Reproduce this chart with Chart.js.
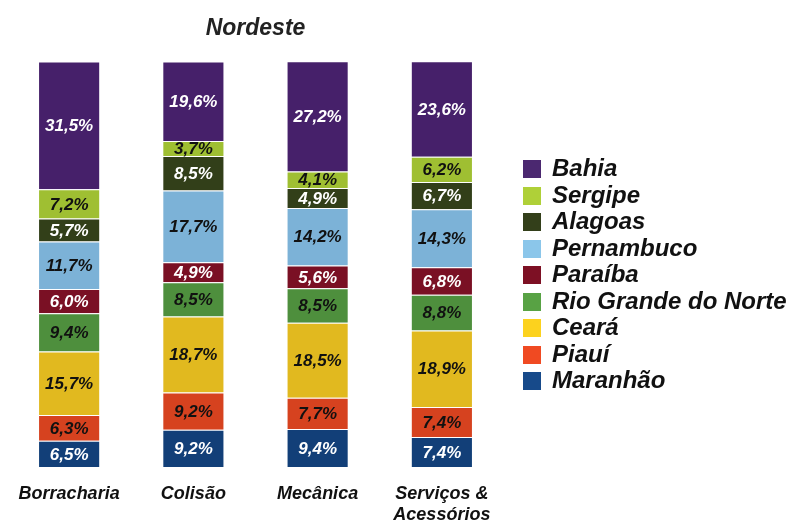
<!DOCTYPE html>
<html>
<head>
<meta charset="utf-8">
<script src="https://cdn.jsdelivr.net/npm/chart.js@4/dist/chart.umd.min.js"></script>
<style>
  body { margin: 0; background: #fff; }
  #wrap { position: relative; width: 795px; height: 520px; }
  #legend { position: absolute; left: 523px; top: 156px; font-family: "Liberation Sans", Arial, sans-serif;
            font-weight: bold; font-style: italic; font-size: 24px; color: #111; }
  #legend div { height: 26.5px; line-height: 24px; white-space: nowrap; }
  #legend span { display: inline-block; width: 18px; height: 18px; margin-right: 11px; vertical-align: -2px; }
</style>
</head>
<body>
<div id="wrap">
  <canvas id="chart" width="795" height="520"></canvas>
  <div id="legend"></div>
</div>
<script>
// categories (x axis)
const categories = ['Borracharia', 'Colisão', 'Mecânica', ['Serviços &', 'Acessórios']];

// states, bottom of the stack first
const states = ['Maranhão', 'Piauí', 'Ceará', 'Rio Grande do Norte', 'Paraíba', 'Pernambuco', 'Alagoas', 'Sergipe', 'Bahia'];

// share (%) per state, one value per category
const maranhao   = [6.5, 9.2, 9.4, 7.4];
const piaui      = [6.3, 9.2, 7.7, 7.4];
const ceara      = [15.7, 18.7, 18.5, 18.9];
const rioGrande  = [9.4, 8.5, 8.5, 8.8];
const paraiba    = [6.0, 4.9, 5.6, 6.8];
const pernambuco = [11.7, 17.7, 14.2, 14.3];
const alagoas    = [5.7, 8.5, 4.9, 6.7];
const sergipe    = [7.2, 3.7, 4.1, 6.2];
const bahia      = [31.5, 19.6, 27.2, 23.6];

const values = [maranhao, piaui, ceara, rioGrande, paraiba, pernambuco, alagoas, sergipe, bahia];

const barColors    = ['#123f78', '#d6421f', '#e1b91f', '#4e8f3d', '#7a1024', '#7cb2d7', '#323f19', '#9fbf32', '#46206a'];
const legendColors = ['#174a8a', '#f04a22', '#fcd21e', '#58a244', '#7d1024', '#8bc6ea', '#333f1a', '#afd038', '#4b2870'];
const textColors   = ['#fff', '#111', '#111', '#111', '#fff', '#111', '#fff', '#111', '#fff'];

const FONT = '"Liberation Sans", Arial, sans-serif';

// value labels inside each segment
const segmentLabels = {
    id: 'segmentLabels',
    afterDatasetsDraw(chart) {
        const ctx = chart.ctx;
        ctx.save();
        ctx.font = 'italic bold 17px ' + FONT;
        ctx.textAlign = 'center';
        ctx.textBaseline = 'middle';
        chart.data.datasets.forEach((ds, i) => {
            chart.getDatasetMeta(i).data.forEach((bar, j) => {
                const p = bar.getCenterPoint();
                ctx.fillStyle = textColors[i];
                ctx.fillText(ds.data[j].toFixed(1).replace('.', ',') + '%', p.x, p.y + 1);
            });
        });
        ctx.restore();
    }
};

new Chart(document.getElementById('chart'), {
    type: 'bar',
    data: {
        labels: categories,
        datasets: states.map((name, i) => ({
            label: name,
            data: values[i],
            backgroundColor: barColors[i],
            borderColor: 'rgba(255,255,255,0.45)',
            borderWidth: 1,
            barPercentage: 1,
            categoryPercentage: 0.5
        }))
    },
    options: {
        responsive: false,
        animation: false,
        layout: { padding: { left: 7, right: 291, top: 15, bottom: 0 } },
        scales: {
            x: {
                stacked: true,
                grid: { display: false, drawTicks: false },
                border: { display: false },
                afterFit(scale) { scale.height = 53; },
                ticks: {
                    color: '#111',
                    padding: 16,
                    maxRotation: 0,
                    font: { family: FONT, size: 18, weight: 'bold', style: 'italic', lineHeight: 1.2 }
                }
            },
            y: { stacked: true, display: false, min: 0, max: 100 }
        },
        plugins: {
            legend: { display: false },
            tooltip: { enabled: false },
            title: {
                display: true,
                text: 'Nordeste',
                color: '#222',
                padding: { top: 0, bottom: 19 },
                font: { family: FONT, size: 23, weight: 'bold', style: 'italic', lineHeight: 1.2 }
            }
        }
    },
    plugins: [segmentLabels]
});

// legend, Bahia first
const legend = document.getElementById('legend');
for (let i = states.length - 1; i >= 0; i--) {
    const row = document.createElement('div');
    row.innerHTML = '<span style="background:' + legendColors[i] + '"></span>' + states[i];
    legend.appendChild(row);
}
</script>
</body>
</html>
